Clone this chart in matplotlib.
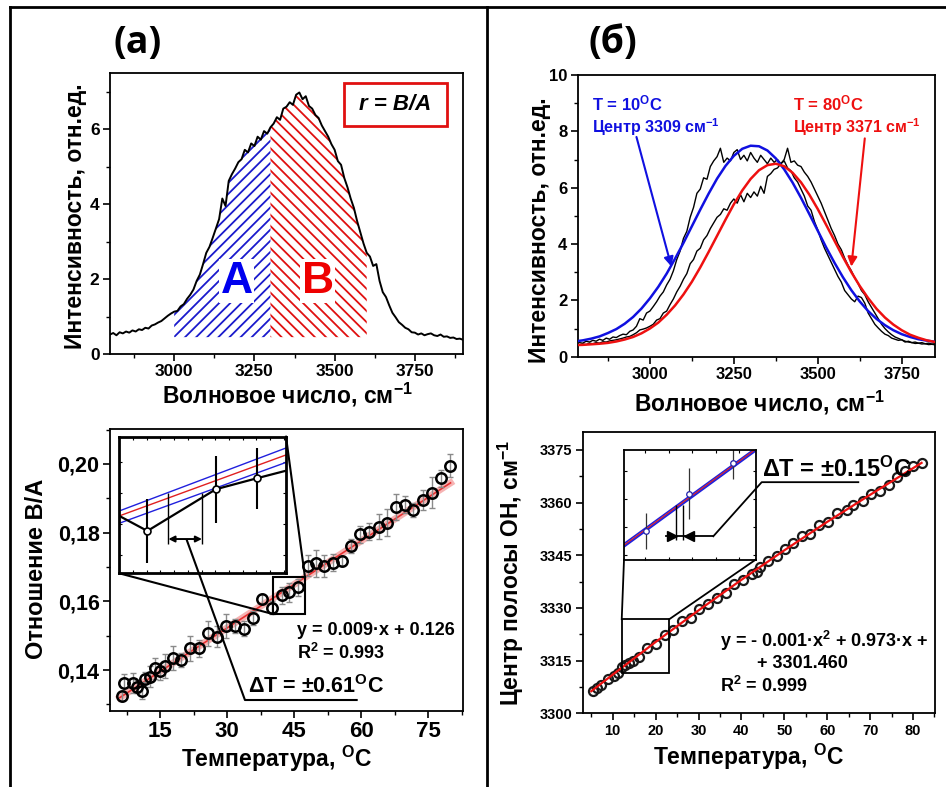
import numpy as np
import matplotlib
matplotlib.use('Agg')
import matplotlib.pyplot as plt
from matplotlib.patches import Rectangle
from matplotlib.lines import Line2D
from matplotlib.ticker import MultipleLocator

plt.rcParams['font.family'] = ['Liberation Sans', 'DejaVu Sans']
plt.rcParams['font.weight'] = 'bold'
plt.rcParams['axes.labelweight'] = 'bold'
plt.rcParams['mathtext.fontset'] = 'custom'
plt.rcParams['mathtext.rm'] = 'Liberation Sans:bold'
plt.rcParams['mathtext.bf'] = 'Liberation Sans:bold'
plt.rcParams['mathtext.it'] = 'Liberation Sans:bold:italic'
plt.rcParams['mathtext.default'] = 'bf'
plt.rcParams['axes.linewidth'] = 1.3
plt.rcParams['hatch.linewidth'] = 1.3

# ---- (а) спектр, шаг 10 см-1 от 2800 до 3900
wn_a = np.arange(2800, 3901, 10)
spec_a = [0.52, 0.56, 0.50, 0.58, 0.55, 0.60, 0.57, 0.63, 0.60, 0.66,
          0.64, 0.70, 0.68, 0.76, 0.79, 0.84, 0.88, 0.95, 1.02, 1.08,
          1.13, 1.15, 1.27, 1.33, 1.47, 1.58, 1.72, 1.95, 2.12, 2.40,
          2.70, 2.86, 3.10, 3.35, 3.60, 4.15, 3.95, 4.62, 4.80, 4.95,
          5.12, 5.20, 5.45, 5.38, 5.62, 5.55, 5.80, 5.72, 5.95, 5.88,
          6.05, 6.15, 6.32, 6.25, 6.55, 6.60, 6.72, 6.65, 6.92, 6.98,
          6.80, 6.88, 6.62, 6.55, 6.38, 6.30, 6.10, 5.95, 5.80, 5.60,
          5.45, 5.15, 5.05, 4.70, 4.45, 4.15, 3.90, 3.55, 3.25, 2.95,
          2.70, 2.60, 2.35, 2.40, 1.95, 1.65, 1.52, 1.30, 1.10, 0.98,
          0.85, 0.78, 0.70, 0.66, 0.58, 0.57, 0.52, 0.55, 0.50, 0.53,
          0.55, 0.50, 0.48, 0.52, 0.46, 0.47, 0.43, 0.44, 0.40, 0.41,
          0.38]
area_base = 0.45

# ---- (а) отношение B/A от температуры
temp_a = [6.4, 6.9, 8.9, 9.8, 10.9, 11.6, 12.8, 13.9, 15.0, 16.1, 17.8, 19.7,
          21.7, 23.8, 25.8, 27.7, 29.8, 31.8, 33.8, 35.9, 37.8, 40.0, 42.2,
          43.9, 45.9, 48.0, 49.8, 51.8, 53.6, 55.7, 57.7, 59.8, 61.8, 64.0,
          65.7, 67.7, 69.8, 71.7, 73.8, 75.8, 77.8, 79.9]
ratio_a = [0.1325, 0.1363, 0.1363, 0.1352, 0.1340, 0.1373, 0.1381, 0.1405,
           0.1396, 0.1412, 0.1434, 0.1429, 0.1463, 0.1463, 0.1507, 0.1497,
           0.1528, 0.1528, 0.1521, 0.1551, 0.1608, 0.1582, 0.1618, 0.1626,
           0.1641, 0.1704, 0.1711, 0.1703, 0.1713, 0.1718, 0.1762, 0.1795,
           0.1803, 0.1818, 0.1829, 0.1874, 0.1881, 0.1866, 0.1895, 0.1917,
           0.1958, 0.1995]
err_a = [0.0015, 0.0027, 0.0030, 0.0020, 0.0025, 0.0022, 0.0030, 0.0030,
         0.0025, 0.0035, 0.0035, 0.0020, 0.0035, 0.0025, 0.0036, 0.0030,
         0.0035, 0.0020, 0.0022, 0.0020, 0.0015, 0.0020, 0.0025, 0.0027,
         0.0025, 0.0030, 0.0040, 0.0032, 0.0025, 0.0015, 0.0020, 0.0025,
         0.0025, 0.0035, 0.0040, 0.0038, 0.0025, 0.0020, 0.0030, 0.0046,
         0.0025, 0.0033]
fit_t_a = [6.0, 80.0]
fit_r_a = [0.1320, 0.1945]
ratio_ticks = [0.14, 0.16, 0.18, 0.20]
ratio_labels = ['0,14', '0,16', '0,18', '0,20']

# вставка (а)
ins_a_t = [41.43, 44.43, 46.22]
ins_a_r = [0.15941, 0.16277, 0.16365]
ins_a_err = [0.0026, 0.0027, 0.00245]
ins_a_line_t = [40.2, 41.43, 44.43, 46.22, 47.5]
ins_a_line_r = [0.16062, 0.15941, 0.16277, 0.16365, 0.16426]
ins_a_fit_t = [40.2, 47.5]
ins_a_fit = [0.16062, 0.16553]
ins_a_up = [0.16102, 0.16609]
ins_a_lo = [0.16003, 0.16493]
ins_a_dt = [42.35, 43.82]

# ---- (б) спектры при 10 и 80 C, шаг 10 см-1 от 2790 до 3850
wn_b = np.arange(2790, 3851, 10)
spec_10 = [0.50, 0.48, 0.55, 0.52, 0.58, 0.55, 0.62, 0.58, 0.66, 0.62,
           0.70, 0.68, 0.75, 0.80, 0.78, 0.90, 0.95, 1.08, 1.35, 1.30,
           1.55, 1.62, 1.78, 1.95, 2.15, 2.30, 2.55, 2.75, 3.05, 3.45,
           3.75, 4.20, 4.45, 4.95, 5.30, 5.80, 5.95, 6.35, 6.30, 6.75,
           6.95, 7.10, 7.40, 6.90, 7.05, 6.95, 7.25, 7.35, 7.00, 7.15,
           6.95, 7.25, 7.05, 6.90, 7.15, 7.00, 6.85, 7.05, 6.90, 7.00,
           6.85, 6.95, 6.70, 6.60, 6.35, 6.20, 5.95, 5.70, 5.35, 5.20,
           4.80, 4.50, 4.15, 3.85, 3.60, 3.35, 3.10, 2.85, 2.65, 2.35,
           2.20, 2.05, 1.95, 2.15, 2.10, 1.90, 1.55, 1.35, 1.15, 1.02,
           0.90, 0.80, 0.75, 0.66, 0.62, 0.58, 0.60, 0.52, 0.55, 0.50,
           0.52, 0.48, 0.50, 0.46, 0.48, 0.45, 0.46]
spec_80 = [0.42, 0.45, 0.43, 0.48, 0.46, 0.50, 0.48, 0.53, 0.52, 0.56,
           0.58, 0.60, 0.63, 0.66, 0.70, 0.72, 0.78, 0.85, 0.95, 0.98,
           1.02, 1.08, 1.15, 1.30, 1.35, 1.55, 1.62, 1.85, 2.05, 2.30,
           2.50, 2.75, 2.95, 3.30, 3.45, 3.75, 3.85, 4.15, 4.30, 4.55,
           4.75, 4.95, 5.05, 5.25, 5.20, 5.45, 5.60, 5.45, 5.75, 5.50,
           5.80, 5.65, 5.85, 5.70, 6.05, 5.80, 6.40, 6.50, 6.65, 6.70,
           6.85, 7.00, 7.40, 6.90, 6.95, 6.80, 6.75, 6.55, 6.40, 6.20,
           5.95, 5.70, 5.45, 5.15, 4.85, 4.55, 4.30, 4.00, 3.80, 3.50,
           3.25, 3.05, 2.80, 2.60, 2.35, 2.20, 1.95, 1.75, 1.55, 1.35,
           1.15, 1.00, 0.88, 0.78, 0.70, 0.65, 0.60, 0.55, 0.52, 0.50,
           0.47, 0.48, 0.45, 0.46, 0.43, 0.44, 0.42]
# гауссовы подгонки, шаг 25 см-1 от 2775 до 3850
wn_fit = np.arange(2775, 3851, 25)
fit_10 = [0.54, 0.58, 0.64, 0.72, 0.84, 0.98, 1.17, 1.41, 1.71, 2.07, 2.48,
          2.95, 3.48, 4.04, 4.63, 5.22, 5.79, 6.32, 6.77, 7.13, 7.38, 7.49,
          7.47, 7.32, 7.04, 6.65, 6.18, 5.64, 5.06, 4.47, 3.88, 3.33, 2.82,
          2.36, 1.96, 1.62, 1.34, 1.12, 0.94, 0.80, 0.70, 0.62, 0.57, 0.53]
fit_80 = [0.41, 0.42, 0.44, 0.46, 0.49, 0.54, 0.61, 0.70, 0.83, 1.00, 1.21,
          1.49, 1.82, 2.21, 2.66, 3.17, 3.72, 4.29, 4.86, 5.41, 5.90, 6.31,
          6.62, 6.80, 6.85, 6.76, 6.53, 6.19, 5.75, 5.24, 4.68, 4.11, 3.54,
          3.00, 2.51, 2.08, 1.70, 1.39, 1.14, 0.94, 0.78, 0.67, 0.58, 0.52]

# ---- (б) центр полосы ОН от температуры
temp_b = [5.5, 6.3, 7.2, 9.0, 10.2, 11.2, 12.1, 12.9, 13.9, 14.8, 16.2, 17.9,
          20.1, 22.2, 24.1, 26.1, 28.2, 30.1, 32.1, 34.2, 36.3, 38.3, 40.3,
          42.4, 43.6, 44.3, 46.1, 48.2, 50.2, 52.1, 54.1, 56.1, 58.2, 60.3,
          62.2, 64.5, 66.1, 68.3, 70.1, 72.2, 74.3, 76.2, 78.1, 80.1, 82.0]
center_b = [3306.4, 3307.1, 3308.0, 3309.9, 3310.6, 3311.5, 3313.2, 3313.7,
            3314.2, 3315.0, 3316.1, 3318.5, 3319.6, 3322.2, 3323.7, 3326.2,
            3327.0, 3329.6, 3331.0, 3332.7, 3334.3, 3336.7, 3337.9, 3339.6,
            3340.3, 3341.6, 3343.3, 3344.7, 3346.9, 3348.5, 3350.4, 3351.1,
            3353.5, 3354.4, 3357.0, 3357.9, 3359.2, 3360.3, 3362.5, 3363.4,
            3365.0, 3367.2, 3369.1, 3370.5, 3371.2]
fit_t_b = [5, 10, 20, 30, 40, 50, 60, 70, 82]
fit_c_b = [3306.3, 3311.0, 3320.3, 3329.3, 3338.0, 3346.4, 3354.5, 3362.2, 3371.3]

# вставка (б)
ins_b_t = [14.05, 17.76, 21.5]
ins_b_c = [3315.46, 3320.73, 3325.07]
ins_b_err = [2.5, 3.6, 2.2]
ins_b_fit_t = [12.2, 23.4]
ins_b_fit = [3313.4, 3327.0]
ins_b_up = [3313.66, 3327.2]
ins_b_lo = [3313.2, 3326.8]
ins_b_dt = [16.62, 17.24]


fig = plt.figure(figsize=(9.46, 7.87), dpi=100)
W, H = 946.0, 787.0


def place(l, t, r, b):
    return [l / W, 1 - b / H, (r - l) / W, (b - t) / H]


def style(ax, fs_x, fs_y):
    ax.tick_params(which='both', direction='out', top=False, right=False)
    ax.tick_params(which='major', length=5, width=1.2, pad=2.5)
    ax.tick_params(which='minor', length=3, width=1.0)
    ax.tick_params(axis='x', labelsize=fs_x)
    ax.tick_params(axis='y', labelsize=fs_y)


def labels(ax, xtext, ytext, xpos, ypos, fs=16.5, yfs=None):
    ax.set_xlabel(xtext, fontsize=fs, va='baseline')
    ax.set_ylabel(ytext, fontsize=yfs or fs, va='baseline')
    ax.xaxis.set_label_coords(*xpos)
    ax.yaxis.set_label_coords(*ypos)


# ================= (а) верх
ax1 = fig.add_axes(place(110, 73, 463, 354))
ax1.plot(wn_a, spec_a, color='black', lw=1.4, zorder=3)
ax1.fill_between(wn_a, area_base, spec_a, where=(wn_a >= 3000) & (wn_a <= 3300),
                 facecolor='none', edgecolor='#1a1acc', hatch='///', linewidth=0)
ax1.fill_between(wn_a, area_base, spec_a, where=(wn_a >= 3300) & (wn_a <= 3600),
                 facecolor='none', edgecolor='#e01010', hatch='\\\\\\', linewidth=0)
ax1.text(3195, 1.94, 'A', color='#0000ee', fontsize=32, ha='center', va='center',
         bbox=dict(facecolor='white', edgecolor='none', pad=1))
ax1.text(3447, 1.94, 'B', color='#ee0000', fontsize=32, ha='center', va='center',
         bbox=dict(facecolor='white', edgecolor='none', pad=1))
ax1.add_patch(Rectangle((0.663, 0.811), 0.291, 0.152, transform=ax1.transAxes,
                        fill=False, edgecolor='#e01010', lw=2))
ax1.text(0.808, 0.887, 'r = B/A', transform=ax1.transAxes, ha='center', va='center',
         fontsize=16, fontstyle='italic')
ax1.set_xlim(2800, 3900)
ax1.set_ylim(0, 7.5)
ax1.set_xticks([3000, 3250, 3500, 3750])
ax1.set_yticks([0, 2, 4, 6])
ax1.xaxis.set_minor_locator(MultipleLocator(125))
ax1.yaxis.set_minor_locator(MultipleLocator(1))
style(ax1, 12.5, 12.5)
labels(ax1, 'Волновое число, см$^{-1}$', 'Интенсивность, отн.ед.',
       (0.503, -0.177), (-0.080, 0.489))

# ================= (а) низ
ax2 = fig.add_axes(place(110, 429.3, 463, 711))
ax2.plot(fit_t_a, fit_r_a, color='#f4a0a0', lw=5, alpha=0.8, zorder=2)
ax2.plot(fit_t_a, fit_r_a, color='#e83030', lw=1.2, zorder=2.5)
ax2.errorbar(temp_a, ratio_a, yerr=err_a, fmt='none', ecolor='#8a8a8a', elinewidth=1,
             capsize=2.5, capthick=1, zorder=3)
ax2.plot(temp_a, ratio_a, 'o', ms=7.5, mfc='none', mec='black', mew=1.8, zorder=4)
ax2.set_xlim(3.8, 82.8)
ax2.set_ylim(0.1281, 0.2101)
ax2.set_xticks([15, 30, 45, 60, 75])
ax2.set_yticks(ratio_ticks, labels=ratio_labels)
ax2.xaxis.set_minor_locator(MultipleLocator(7.5))
ax2.yaxis.set_minor_locator(MultipleLocator(0.01))
style(ax2, 16, 15.5)
labels(ax2, 'Температура, $^{O}$C', 'Отношение В/А',
       (0.472, -0.199), (-0.191, 0.503), yfs=17)

ax2.text(45.6, 0.1502, 'y = 0.009·x + 0.126', fontsize=13, va='baseline')
ax2.text(45.6, 0.1432, 'R$^{2}$ = 0.993', fontsize=13, va='baseline')
ax2.text(34.75, 0.1333, 'ΔT = ±0.61$^{O}$C', fontsize=15.5, va='baseline', zorder=7)

ins1 = ax2.inset_axes([5.88, 0.16818, 43.19 - 5.88, 0.20795 - 0.16818],
                      transform=ax2.transData)
ins1.plot(ins_a_fit_t, ins_a_up, color='#2020dd', lw=1)
ins1.plot(ins_a_fit_t, ins_a_fit, color='#e02020', lw=1)
ins1.plot(ins_a_fit_t, ins_a_lo, color='#2020dd', lw=1)
ins1.plot(ins_a_line_t, ins_a_line_r, color='black', lw=1.6)
ins1.errorbar(ins_a_t, ins_a_r, yerr=ins_a_err, fmt='none', ecolor='black',
              elinewidth=1.5, capsize=0)
ins1.plot(ins_a_t, ins_a_r, 'o', ms=5, mfc='white', mec='black', mew=1.2, zorder=4)
ins1.vlines(ins_a_dt, 0.1584, 0.16249, color='black', lw=1)
ins1.annotate('', xy=(ins_a_dt[0], 0.15876), xytext=(ins_a_dt[1], 0.15876),
              arrowprops=dict(arrowstyle='<|-|>', color='black', lw=1.4,
                              mutation_scale=9, shrinkA=0, shrinkB=0))
ins1.set_xlim(40.2, 47.5)
ins1.set_ylim(0.156, 0.167)
ins1.xaxis.set_major_locator(MultipleLocator(0.6))
ins1.yaxis.set_major_locator(MultipleLocator(0.0025))
ins1.tick_params(which='both', direction='in', length=2.5, width=0.8, top=True,
                 right=True, labelbottom=False, labelleft=False)
for sp in ins1.spines.values():
    sp.set_linewidth(2)

ax2.add_patch(Rectangle((40.21, 0.15634), 47.44 - 40.21, 0.16702 - 0.15634,
                        fill=False, edgecolor='black', lw=1.5, zorder=6))
ax2.plot([43.19, 47.44], [0.20795, 0.16702], color='black', lw=1.5, zorder=6, clip_on=False)
ax2.plot([5.88, 40.21], [0.16818, 0.15634], color='black', lw=1.5, zorder=6, clip_on=False)
ax2.plot([21.0, 34.0, 59.0], [0.1778, 0.1313, 0.1313], color='black', lw=1.5, zorder=6)

# ================= (б) верх
ax3 = fig.add_axes(place(577.7, 75, 935.3, 356.7))
ax3.plot(wn_b, spec_10, color='black', lw=1.0, zorder=2)
ax3.plot(wn_b, spec_80, color='black', lw=1.0, zorder=2)
ax3.plot(wn_fit, fit_10, color='#1010e0', lw=1.8, zorder=3)
ax3.plot(wn_fit, fit_80, color='#ee1010', lw=1.8, zorder=3)
ax3.text(2829, 9.0, 'T = 10$^{O}$C', color='#1010e0', fontsize=12, va='center')
ax3.text(2829, 8.15, 'Центр 3309 см$^{-1}$', color='#1010e0', fontsize=11.5, va='center')
ax3.text(3425, 9.0, 'T = 80$^{O}$C', color='#ee1010', fontsize=12, va='center')
ax3.text(3425, 8.15, 'Центр 3371 см$^{-1}$', color='#ee1010', fontsize=11.5, va='center')
ax3.annotate('', xy=(3064, 3.2), xytext=(2960, 7.8),
             arrowprops=dict(arrowstyle='-|>', color='#1010e0', lw=1.5,
                             mutation_scale=14, shrinkA=0, shrinkB=0))
ax3.annotate('', xy=(3600, 3.2), xytext=(3640, 7.75),
             arrowprops=dict(arrowstyle='-|>', color='#ee1010', lw=1.5,
                             mutation_scale=14, shrinkA=0, shrinkB=0))
ax3.set_xlim(2785, 3850)
ax3.set_ylim(0, 10)
ax3.set_xticks([3000, 3250, 3500, 3750])
ax3.set_yticks([0, 2, 4, 6, 8, 10])
ax3.xaxis.set_minor_locator(MultipleLocator(125))
ax3.yaxis.set_minor_locator(MultipleLocator(1))
style(ax3, 12, 12)
labels(ax3, 'Волновое число, см$^{-1}$', 'Интенсивность, отн.ед.',
       (0.507, -0.193), (-0.0886, 0.45))

# ================= (б) низ
ax4 = fig.add_axes(place(582.7, 432.3, 935.3, 713.3))
ax4.plot(temp_b, center_b, 'o', ms=6.5, mfc='none', mec='#1a1a1a', mew=1.6, zorder=3)
ax4.plot(fit_t_b, fit_c_b, color='#ee1010', lw=1.6, zorder=4)
ax4.set_xlim(3.0, 85.2)
ax4.set_ylim(3300, 3380)
ax4.set_xticks([10, 20, 30, 40, 50, 60, 70, 80])
ax4.set_yticks([3300, 3315, 3330, 3345, 3360, 3375])
ax4.xaxis.set_minor_locator(MultipleLocator(5))
ax4.yaxis.set_minor_locator(MultipleLocator(7.5))
style(ax4, 10.5, 10.5)
labels(ax4, 'Температура, $^{O}$C', 'Центр полосы ОН, см$^{-1}$',
       (0.472, -0.184), (-0.181, 0.499))

ax4.text(35.0, 3318.9, 'y = - 0.001·x$^{2}$ + 0.973·x +', fontsize=13, va='baseline')
ax4.text(43.6, 3312.8, '+ 3301.460', fontsize=13, va='baseline')
ax4.text(35.0, 3306.1, 'R$^{2}$ = 0.999', fontsize=13, va='baseline')
ax4.text(44.7, 3367.2, 'ΔT = ±0.15$^{O}$C', fontsize=17, va='baseline', zorder=7)

ins2 = ax4.inset_axes([12.63, 3343.75, 43.33 - 12.63, 3375.1 - 3343.75],
                      transform=ax4.transData)
ins2.plot(ins_b_fit_t, ins_b_up, color='#2020dd', lw=1.2)
ins2.plot(ins_b_fit_t, ins_b_fit, color='#e02020', lw=1.2)
ins2.plot(ins_b_fit_t, ins_b_lo, color='#2020dd', lw=1.2)
ins2.errorbar(ins_b_t, ins_b_c, yerr=ins_b_err, fmt='none', ecolor='#333333',
              elinewidth=0.9, capsize=0)
ins2.plot(ins_b_t, ins_b_c, 'o', ms=4, mfc='white', mec='#2020aa', mew=0.9, zorder=4)
ins2.vlines(ins_b_dt, 3314.13, 3319.07, color='black', lw=1)
ins2.plot([15.77, 19.8], [3314.7, 3314.7], color='black', lw=1.3)
ins2.plot([16.25], [3314.7], '>', color='black', ms=7)
ins2.plot([17.75], [3314.7], '<', color='black', ms=7)
ins2.set_xlim(12.2, 23.4)
ins2.set_ylim(3311.4, 3327.0)
ins2.xaxis.set_major_locator(MultipleLocator(2))
ins2.yaxis.set_major_locator(MultipleLocator(4))
ins2.tick_params(which='both', direction='in', length=2, width=0.8, top=True,
                 right=True, labelbottom=False, labelleft=False)
for sp in ins2.spines.values():
    sp.set_linewidth(1.3)

ax4.add_patch(Rectangle((12.1, 3311.5), 23.2 - 12.1, 3326.8 - 3311.5,
                        fill=False, edgecolor='black', lw=1.3, zorder=6))
ax4.plot([12.63, 12.1], [3343.75, 3326.8], color='black', lw=1.3, zorder=6)
ax4.plot([43.33, 23.2], [3343.75, 3326.8], color='black', lw=1.3, zorder=6)
ax4.plot([33.45, 44.73, 67.25], [3350.4, 3365.8, 3365.8], color='black', lw=1.3, zorder=6)

# ================= подписи панелей и рамка
fig.text(138 / W, 1 - 43 / H, '(a)', fontsize=27, ha='center', va='center',
         family=['Open Sans', 'DejaVu Sans'], weight='bold')
fig.text(613 / W, 1 - 43 / H, '(б)', fontsize=27, ha='center', va='center',
         family=['Open Sans', 'DejaVu Sans'], weight='bold')

frame_kw = dict(color='black', lw=2, transform=fig.transFigure)
fig.add_artist(Line2D([10 / W, 1.0], [1 - 6.5 / H, 1 - 6.5 / H], **frame_kw))
fig.add_artist(Line2D([10 / W, 10 / W], [0, 1 - 6.5 / H], **frame_kw))
fig.add_artist(Line2D([486.7 / W, 486.7 / W], [0, 1 - 6.5 / H], **frame_kw))

fig.savefig('out.png', dpi=100)
